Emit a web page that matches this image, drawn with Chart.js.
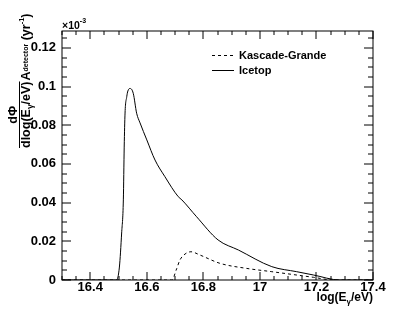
<!DOCTYPE html>
<html>
<head>
<meta charset="utf-8">
<script src="https://cdn.jsdelivr.net/npm/chart.js@4.4.1/dist/chart.umd.min.js"></script>
<style>
  html, body { margin: 0; padding: 0; background: #fff; }
  canvas { display: block; }
</style>
</head>
<body>
<canvas id="fluxChart" width="415" height="311"></canvas>
<script>
// values (y in units of 10^-3 yr^-1)
const icetopLogE = [16.3, 16.493, 16.503, 16.511, 16.517, 16.520, 16.523, 16.529, 16.533, 16.541, 16.552, 16.564, 16.576, 16.600, 16.629, 16.664, 16.711, 16.724, 16.776, 16.852, 16.924, 17.042, 17.130, 17.189, 17.283, 17.4];
const icetopFlux = [0, 0, 0.0067, 0.0243, 0.0414, 0.0687, 0.0863, 0.0947, 0.0977, 0.0990, 0.0965, 0.0862, 0.0812, 0.0724, 0.0620, 0.0534, 0.0431, 0.0414, 0.0327, 0.0207, 0.0155, 0.0069, 0.0043, 0.0026, 0, 0];

const kascadeLogE = [16.3, 16.688, 16.706, 16.717, 16.735, 16.756, 16.788, 16.859, 16.953, 17.042, 17.189, 17.26, 17.4];
const kascadeFlux = [0, 0, 0.0060, 0.0103, 0.0134, 0.0146, 0.0129, 0.0086, 0.0060, 0.0043, 0.0014, 0, 0];

const xTickValues = [16.4, 16.6, 16.8, 17, 17.2, 17.4];
const yTickValues = [0, 0.02, 0.04, 0.06, 0.08, 0.1, 0.12];
const seriesLabels = ['Kascade-Grande', 'Icetop'];

const xMin = 16.3, xMax = 17.4;
const yMin = 0, yMax = 0.1287;
const FONT = '"Liberation Sans", Arial, Helvetica, sans-serif';

function toPoints(xs, ys) {
  return xs.map((x, i) => ({ x: x, y: ys[i] }));
}

function textWidth(ctx, pieces) {
  let w = 0;
  pieces.forEach(p => { ctx.font = 'bold ' + p[1] + 'px ' + FONT; w += ctx.measureText(p[0]).width; });
  return w;
}

// run of text pieces [text, size, baseline shift]
function hText(ctx, pieces, x, y) {
  let pos = 0;
  pieces.forEach(p => {
    ctx.font = 'bold ' + p[1] + 'px ' + FONT;
    ctx.fillText(p[0], x + pos, y + p[2]);
    pos += ctx.measureText(p[0]).width;
  });
  return pos;
}

// ROOT look: frame, inward ticks, titles, legend
const rootStyle = {
  id: 'rootStyle',
  afterDraw(chart) {
    const ctx = chart.ctx;
    const xs = chart.scales.x, ys = chart.scales.y;
    const a = chart.chartArea;
    const L = Math.round(a.left), R = Math.round(a.right);
    const T = Math.round(a.top), B = Math.round(a.bottom);

    ctx.save();
    ctx.fillStyle = '#000';
    ctx.strokeStyle = '#000';
    ctx.lineWidth = 1;
    ctx.setLineDash([]);
    ctx.strokeRect(L, T, R - L, B - T);

    ctx.beginPath();
    for (let v = xMin; v <= xMax + 1e-9; v += 0.05) {
      const major = xTickValues.some(t => Math.abs(t - v) < 1e-6);
      const len = major ? 8 : 4;
      const px = Math.round(xs.getPixelForValue(v));
      ctx.moveTo(px, B); ctx.lineTo(px, B - len);
      ctx.moveTo(px, T); ctx.lineTo(px, T + len);
    }
    for (let v = yMin; v <= yMax + 1e-9; v += 0.005) {
      const major = yTickValues.some(t => Math.abs(t - v) < 1e-6);
      const len = major ? 9 : 5;
      const py = Math.round(ys.getPixelForValue(v));
      ctx.moveTo(L, py); ctx.lineTo(L + len, py);
      ctx.moveTo(R, py); ctx.lineTo(R - len, py);
    }
    ctx.stroke();

    ctx.textAlign = 'left';
    ctx.textBaseline = 'alphabetic';

    // exponent
    hText(ctx, [['\u00d710', 10.5, 0], ['-3', 7, -6]], 62, 29);

    // x title, right aligned with the frame
    const xt = [['log(E', 12, 0], ['\u03b3', 8, 3], ['/eV)', 12, 0]];
    hText(ctx, xt, R - textWidth(ctx, xt), 301);

    // y title, reads bottom to top
    const den = [['dlog(E', 12.5, 0], ['\u03b3', 8.5, 3], ['/eV)', 12.5, 0]];
    const num = [['d\u03a6', 12.5, 0]];
    const rest = [['A', 12.5, 0], ['detector', 7, -2.5], [' (yr', 12.5, 0], ['-1', 7.5, -6], [')', 12.5, 0]];
    ctx.save();
    ctx.translate(30, 148);
    ctx.rotate(-Math.PI / 2);
    const denW = hText(ctx, den, 0, 0);
    ctx.fillRect(0, -11, denW, 1);
    const numW = textWidth(ctx, num);
    hText(ctx, num, (denW - numW) / 2, -13);
    hText(ctx, rest, denW + 1, 0);
    ctx.restore();

    // legend
    const legY = [55, 70];
    chart.data.datasets.forEach((ds, i) => {
      const y0 = legY[i] + 0.5;
      ctx.beginPath();
      ctx.setLineDash(ds.borderDash || []);
      ctx.moveTo(212, y0); ctx.lineTo(234, y0);
      ctx.stroke();
      ctx.setLineDash([]);
      ctx.font = 'bold 11px ' + FONT;
      ctx.textBaseline = 'middle';
      ctx.fillText(ds.label, 239, legY[i] + 1);
    });
    ctx.restore();
  }
};

const data = {
  datasets: [
    {
      label: seriesLabels[0],
      data: toPoints(kascadeLogE, kascadeFlux),
      borderColor: '#000',
      borderWidth: 1,
      borderDash: [3, 3],
      pointRadius: 0,
      cubicInterpolationMode: 'monotone',
    },
    {
      label: seriesLabels[1],
      data: toPoints(icetopLogE, icetopFlux),
      borderColor: '#000',
      borderWidth: 1,
      pointRadius: 0,
      cubicInterpolationMode: 'monotone',
    }
  ]
};

const config = {
  type: 'line',
  data: data,
  options: {
    responsive: false,
    animation: false,
    devicePixelRatio: 1,
    layout: { padding: { top: 31, right: 42, left: 0, bottom: 0 } },
    plugins: {
      legend: { display: false },
      tooltip: { enabled: false },
    },
    scales: {
      x: {
        type: 'linear',
        min: xMin,
        max: xMax,
        grid: { display: false, drawTicks: false },
        border: { display: false },
        afterBuildTicks: scale => { scale.ticks = xTickValues.map(v => ({ value: v })); },
        afterFit: scale => { scale.height = 31; },
        ticks: {
          color: '#000',
          padding: 0,
          maxRotation: 0,
          font: { family: FONT, size: 13, weight: 'bold' },
          callback: v => String(+v.toFixed(1)),
        },
      },
      y: {
        min: yMin,
        max: yMax,
        grid: { display: false, drawTicks: false },
        border: { display: false },
        afterBuildTicks: scale => { scale.ticks = yTickValues.map(v => ({ value: v })); },
        afterFit: scale => { scale.width = 62; },
        ticks: {
          color: '#000',
          padding: 6,
          font: { family: FONT, size: 13, weight: 'bold' },
          callback: v => String(+v.toFixed(2)),
        },
      },
    },
  },
  plugins: [rootStyle],
};

new Chart(document.getElementById('fluxChart'), config);
</script>
</body>
</html>
